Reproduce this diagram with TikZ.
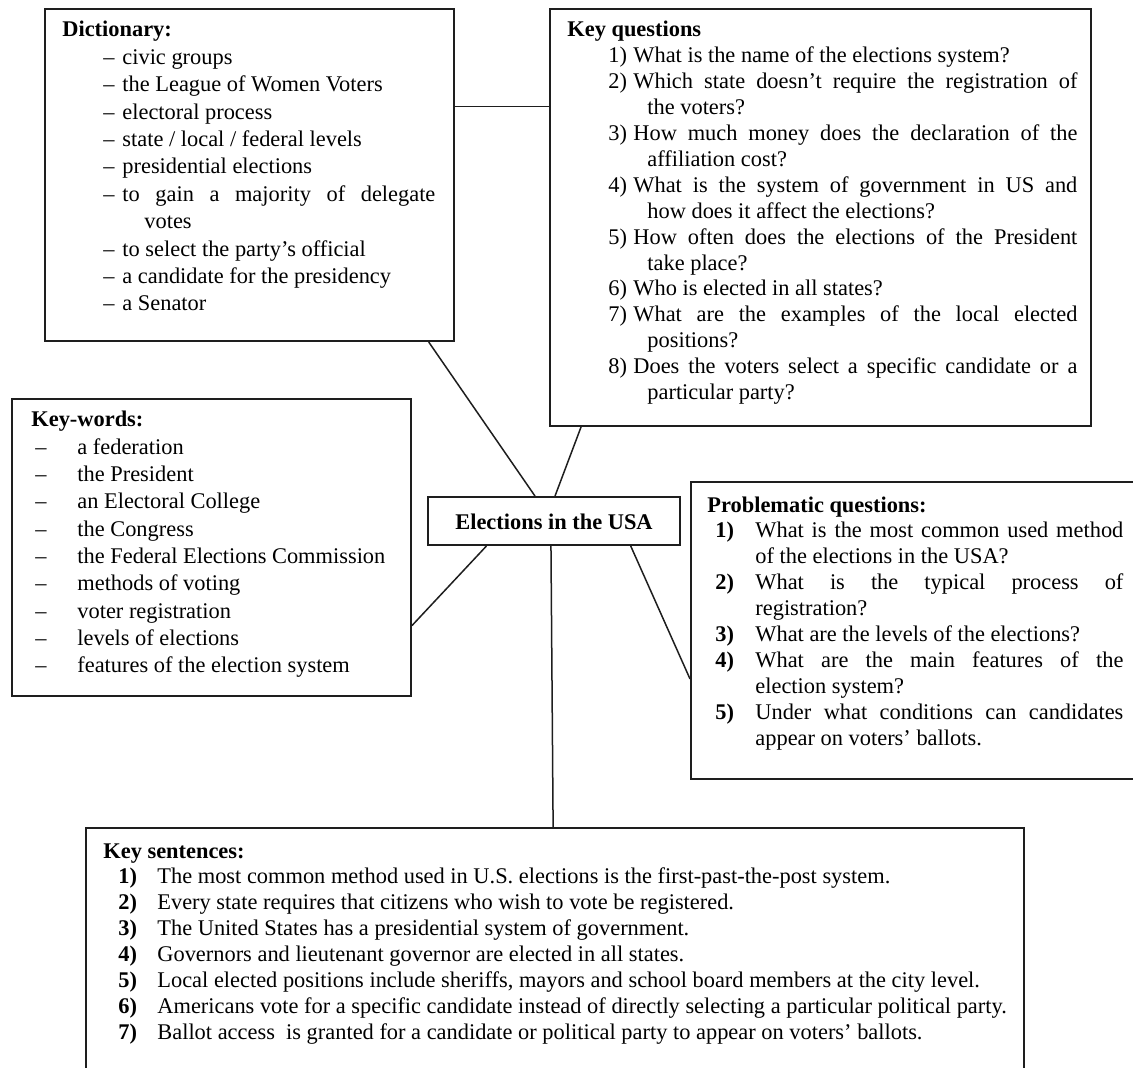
\documentclass[tikz,border=0pt]{standalone}
\usepackage{fontspec}
\setmainfont{Liberation Serif}
\usetikzlibrary{calc,fit}

% drawing unit: one unit = 0.5pt
\newdimen\pxu \pxu=0.5pt
\definecolor{ink}{HTML}{1E1E1E}

% a line of text starting #1 units from the block origin
\newcommand\rowtext[2]{\hbox{\kern#1\pxu\relax#2}}
% a labelled line: offset, label width, label, text
\newcommand\rowitem[4]{\hbox{\kern#1\pxu\relax\hbox to#2\pxu{#3\hss}#4}}
% a labelled line whose text is spread over a given width
\newcommand\rowspread[5]{\hbox{\kern#1\pxu\relax\hbox to#2\pxu{#3\hss}\makebox[#4\pxu][s]{#5}}}

\tikzset{
  panel/.style={draw=ink, line width=1pt, inner sep=0pt},
  link/.style={draw=ink, line width=0.75pt},
  block/.style={anchor=base west, inner sep=0pt, text=black}
}

\begin{document}
\begin{tikzpicture}[x=0.5pt, y=-0.5pt]
\useasboundingbox (0,0) rectangle (1133,1068);
\clip (0,0) rectangle (1133,1068);

% ---------- frames ----------
\node[panel, fit={(45,9) (454,341)}] (dict) {};
\node[panel, fit={(550,9) (1091,426)}] (kq) {};
\node[panel, fit={(12,399) (411,696)}] (kw) {};
\node[panel, fit={(691,482) (1140,779)}] (pq) {};
\node[panel, fit={(86,828) (1024,1076)}] (ks) {};
\node[panel, fit={(428,497) (680,545)}] (hub) {};
\node[inner sep=0pt, font=\fontsize{11.2pt}{13pt}\selectfont\bfseries] (hub-label) at ($(hub.center)+(0,1)$) {Elections in the USA};

% ---------- connectors ----------
\coordinate (dk) at ($(dict.north east)!0.295!(dict.south east)$);
\draw[link] (dk) -- (dk -| kq.west);
\draw[link] ($(dict.south west)!0.936!(dict.south east)$) -- ($(hub.north west)!0.425!(hub.north east)$);
\draw[link] ($(kq.south west)!0.059!(kq.south east)$) -- ($(hub.north west)!0.504!(hub.north east)$);
\draw[link] ($(hub.south west)!0.234!(hub.south east)$) -- ($(kw.north east)!0.761!(kw.south east)$);
\draw[link] ($(hub.south west)!0.488!(hub.south east)$) -- ($(ks.north west)!0.498!(ks.north east)$);
\draw[link] ($(hub.south west)!0.802!(hub.south east)$) -- ($(pq.north west)!0.662!(pq.south west)$);

% ---------- Dictionary ----------
\node[block] (dict-text) at (62,37) {\vtop{\fontsize{11.2pt}{13.7pt}\selectfont
\rowtext{0}{\bfseries Dictionary:}
\rowitem{41}{19}{–}{civic groups}
\rowitem{41}{19}{–}{the League of Women Voters}
\rowitem{41}{19}{–}{electoral process}
\rowitem{41}{19}{–}{state / local / federal levels}
\rowitem{41}{19}{–}{presidential elections}
\rowspread{41}{19}{–}{313}{to gain a majority of delegate}
\rowtext{82}{votes}
\rowitem{41}{19}{–}{to select the party’s official}
\rowitem{41}{19}{–}{a candidate for the presidency}
\rowitem{41}{19}{–}{a Senator}}};

% ---------- Key questions ----------
\node[block] (kq-text) at (567,37) {\vtop{\fontsize{11.2pt}{12.95pt}\selectfont
\rowtext{0}{\bfseries Key questions}
\rowitem{41}{25}{1)}{What is the name of the elections system?}
\rowspread{41}{25}{2)}{444}{Which state doesn’t require the registration of}
\rowtext{80}{the voters?}
\rowspread{41}{25}{3)}{444}{How much money does the declaration of the}
\rowtext{80}{affiliation cost?}
\rowspread{41}{25}{4)}{444}{What is the system of government in US and}
\rowtext{80}{how does it affect the elections?}
\rowspread{41}{25}{5)}{444}{How often does the elections of the President}
\rowtext{80}{take place?}
\rowitem{41}{25}{6)}{Who is elected in all states?}
\rowspread{41}{25}{7)}{444}{What are the examples of the local elected}
\rowtext{80}{positions?}
\rowspread{41}{25}{8)}{444}{Does the voters select a specific candidate or a}
\rowtext{80}{particular party?}}};

% ---------- Key-words ----------
\node[block] (kw-text) at (31,427) {\vtop{\fontsize{11.2pt}{13.65pt}\selectfont
\rowtext{0}{\bfseries Key-words:}
\rowitem{4}{42}{–}{a federation}
\rowitem{4}{42}{–}{the President}
\rowitem{4}{42}{–}{an Electoral College}
\rowitem{4}{42}{–}{the Congress}
\rowitem{4}{42}{–}{the Federal Elections Commission}
\rowitem{4}{42}{–}{methods of voting}
\rowitem{4}{42}{–}{voter registration}
\rowitem{4}{42}{–}{levels of elections}
\rowitem{4}{42}{–}{features of the election system}}};

% ---------- Problematic questions ----------
\node[block] (pq-text) at (707,512) {\vtop{\fontsize{11.2pt}{12.95pt}\selectfont
\rowtext{0}{\bfseries Problematic questions:}
\rowspread{8}{40}{\bfseries 1)}{368}{What is the most common used method}
\rowtext{48}{of the elections in the USA?}
\rowspread{8}{40}{\bfseries 2)}{368}{What is the typical process of}
\rowtext{48}{registration?}
\rowitem{8}{40}{\bfseries 3)}{What are the levels of the elections?}
\rowspread{8}{40}{\bfseries 4)}{368}{What are the main features of the}
\rowtext{48}{election system?}
\rowspread{8}{40}{\bfseries 5)}{368}{Under what conditions can candidates}
\rowtext{48}{appear on voters’ ballots.}}};

% ---------- Key sentences ----------
\node[block] (ks-text) at (103,858) {\vtop{\fontsize{11.2pt}{12.95pt}\selectfont
\rowtext{0}{\bfseries Key sentences:}
\rowitem{15}{39}{\bfseries 1)}{The most common method used in U.S. elections is the first-past-the-post system.}
\rowitem{15}{39}{\bfseries 2)}{Every state requires that citizens who wish to vote be registered.}
\rowitem{15}{39}{\bfseries 3)}{The United States has a presidential system of government.}
\rowitem{15}{39}{\bfseries 4)}{Governors and lieutenant governor are elected in all states.}
\rowitem{15}{39}{\bfseries 5)}{Local elected positions include sheriffs, mayors and school board members at the city level.}
\rowitem{15}{39}{\bfseries 6)}{Americans vote for a specific candidate instead of directly selecting a particular political party.}
\rowitem{15}{39}{\bfseries 7)}{Ballot access\ \ is granted for a candidate or political party to appear on voters’ ballots.}}};
\end{tikzpicture}
\end{document}
